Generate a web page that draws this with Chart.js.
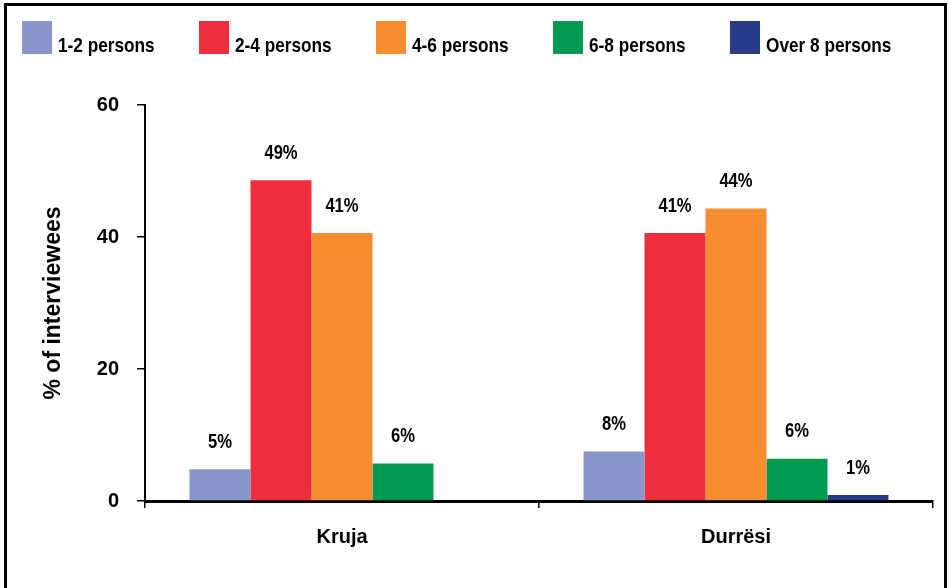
<!DOCTYPE html>
<html>
<head>
<meta charset="utf-8">
<script src="https://cdn.jsdelivr.net/npm/chart.js@4/dist/chart.umd.min.js"></script>
<style>
  html, body { margin: 0; padding: 0; background: #fff; }
  #wrap { position: relative; width: 951px; height: 588px; }
  #legend { position: absolute; left: 22px; top: 21px; display: flex; }
  #legend .item { width: 177px; display: flex; align-items: flex-start; }
  #legend .box { width: 30px; height: 33px; flex: none; }
  #legend .txt {
    font: bold 21px 'Liberation Sans', Arial, sans-serif;
    color: #000;
    margin-left: 6px;
    margin-top: 12px;
    white-space: nowrap;
    transform: scaleX(0.82);
    transform-origin: left center;
  }
</style>
</head>
<body>
<div id="wrap">
  <canvas id="householdChart" width="951" height="588"></canvas>
  <div id="legend"></div>
</div>
<script>
// Household size of interviewees, by district
const districts = ['Kruja', 'Durrësi'];
const sizeGroups = ['1-2 persons', '2-4 persons', '4-6 persons', '6-8 persons', 'Over 8 persons'];
const persons12 = [4.8, 7.5];
const persons24 = [48.6, 40.6];
const persons46 = [40.6, 44.3];
const persons68 = [5.7, 6.4];
const personsOver8 = [null, 0.9];
const yTicks = [0, 20, 40, 60];

const groupColors = ['#8896CB', '#EE2E3D', '#F68D2E', '#019A4E', '#283A89'];
const fontFamily = "'Liberation Sans', Arial, sans-serif";

// white page with a black frame around the whole chart
const framePlugin = {
    id: 'frame',
    beforeDraw(chart) {
        const c = chart.ctx;
        c.save();
        c.fillStyle = '#fff';
        c.fillRect(0, 0, chart.width, chart.height);
        c.strokeStyle = '#000';
        c.lineWidth = 3;
        c.strokeRect(5.5, 4.5, 940, 620);
        c.restore();
    }
};

// percentage above each bar, in a narrowed bold face
const valueLabels = {
    id: 'valueLabels',
    afterDatasetsDraw(chart) {
        const c = chart.ctx;
        chart.data.datasets.forEach((ds, i) => {
            const meta = chart.getDatasetMeta(i);
            meta.data.forEach((bar, j) => {
                const v = ds.data[j];
                if (v === null || v === undefined) return;
                c.save();
                c.translate(bar.x, bar.y - 27);
                c.scale(0.83, 1);
                c.font = "bold 20px " + fontFamily;
                c.fillStyle = '#000';
                c.textAlign = 'center';
                c.textBaseline = 'middle';
                c.fillText(Math.round(v) + '%', 0, 0);
                c.restore();
            });
        });
    }
};

const series = [persons12, persons24, persons46, persons68, personsOver8];

// legend row above the plot
const legendEl = document.getElementById('legend');
sizeGroups.forEach((name, i) => {
    const item = document.createElement('div');
    item.className = 'item';
    const box = document.createElement('div');
    box.className = 'box';
    box.style.background = groupColors[i];
    const txt = document.createElement('span');
    txt.className = 'txt';
    txt.textContent = name;
    item.appendChild(box);
    item.appendChild(txt);
    legendEl.appendChild(item);
});

new Chart(document.getElementById('householdChart'), {
    type: 'bar',
    data: {
        labels: districts,
        datasets: series.map((values, i) => ({
            label: sizeGroups[i],
            data: values,
            backgroundColor: groupColors[i],
            borderWidth: 0,
            barPercentage: 1,
            categoryPercentage: 0.774
        }))
    },
    options: {
        responsive: false,
        animation: false,
        layout: { padding: { left: 8, right: 18, top: 105, bottom: 0 } },
        plugins: {
            legend: { display: false },
            tooltip: { enabled: false }
        },
        scales: {
            x: {
                grid: { drawOnChartArea: false, tickLength: 7, tickColor: '#000', lineWidth: 1.5, offset: true },
                border: { color: '#000', width: 3 },
                ticks: { color: '#000', padding: 17, font: { family: fontFamily, size: 20, weight: 'bold' } },
                afterFit(scale) { scale.height = 87; }
            },
            y: {
                min: 0,
                max: 60,
                afterBuildTicks(scale) { scale.ticks = yTicks.map(v => ({ value: v })); },
                grid: { drawOnChartArea: false, tickLength: 8, tickColor: '#000', lineWidth: 1.5 },
                border: { color: '#000', width: 2 },
                ticks: { color: '#000', padding: 18, font: { family: fontFamily, size: 20, weight: 'bold' } },
                title: {
                    display: true,
                    text: '% of interviewees',
                    color: '#000',
                    padding: { top: 32, bottom: 0 },
                    font: { family: fontFamily, size: 23, weight: 'bold' }
                },
                afterFit(scale) { scale.width = 137; }
            }
        }
    },
    plugins: [framePlugin, valueLabels]
});
</script>
</body>
</html>
